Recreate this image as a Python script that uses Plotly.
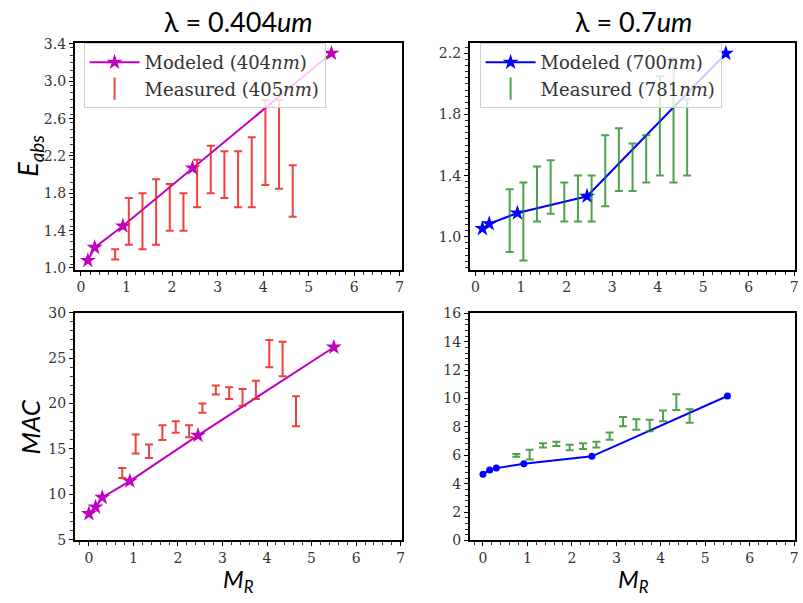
import plotly.graph_objects as go

# ---- data ----
mod_x_top = [0.15, 0.3, 0.92, 2.45, 5.5]
mod_x_bot = [0.0, 0.15, 0.3, 0.92, 2.45, 5.5]
meas_x = [0.75, 1.05, 1.35, 1.65, 1.95, 2.25, 2.55, 2.85, 3.15, 3.45, 3.75, 4.05, 4.35, 4.65]

eabs_mod_404 = [1.08, 1.22, 1.45, 2.07, 3.30]
eabs_meas_405_lo = [1.09, 1.25, 1.20, 1.25, 1.40, 1.40, 1.65, 1.80, 1.75, 1.65, 1.65, 1.89, 1.85, 1.55]
eabs_meas_405_hi = [1.20, 1.75, 1.80, 1.95, 1.90, 1.80, 2.16, 2.31, 2.25, 2.25, 2.40, 2.80, 2.80, 2.10]

eabs_mod_700 = [1.053, 1.085, 1.155, 1.265, 2.20]
eabs_meas_781_lo = [0.90, 0.845, 1.10, 1.15, 1.10, 1.10, 1.10, 1.20, 1.30, 1.30, 1.355, 1.40, 1.355, 1.40]
eabs_meas_781_hi = [1.31, 1.355, 1.46, 1.50, 1.355, 1.40, 1.40, 1.665, 1.71, 1.61, 1.665, 2.05, 2.17, 1.90]

mac_mod_404 = [7.88, 8.6, 9.67, 11.47, 16.5, 26.2]
mac_meas_405_lo = [11.8, 14.5, 14.0, 16.0, 16.8, 16.3, 19.0, 21.0, 20.5, 19.75, 20.5, 24.0, 23.0, 17.5]
mac_meas_405_hi = [12.9, 16.6, 15.5, 17.6, 18.05, 17.6, 20.0, 22.0, 21.8, 21.6, 22.5, 27.0, 26.8, 20.8]

mac_mod_700 = [4.67, 4.97, 5.1, 5.4, 5.93, 10.18]
mac_meas_781_lo = [5.9, 5.7, 6.55, 6.65, 6.35, 6.45, 6.55, 7.1, 8.05, 7.8, 7.7, 8.4, 9.2, 8.3]
mac_meas_781_hi = [6.1, 6.4, 6.85, 6.95, 6.75, 6.85, 6.95, 7.6, 8.7, 8.55, 8.5, 9.15, 10.3, 9.25]

# tick layout: (first tick, step)
eabs_ticks_l = (1.0, 0.4)
eabs_ticks_r = (1.0, 0.4)
mac_ticks_l = (5, 5)
mac_ticks_r = (0, 2)
x_ticks = (0, 1)

# ---- styles ----
MAG = "#bf00bf"
RED = "rgba(240,30,30,0.85)"
BLUE = "#0000ff"
GREEN = "rgba(20,130,20,0.75)"
SERIF = "DejaVu Serif"
W, H = 803, 603


def px_x(p):
    return p / W


def px_y(p):
    return 1 - p / H


def mid(lo, hi):
    return [(a + b) / 2 for a, b in zip(lo, hi)]


def half(lo, hi):
    return [(b - a) / 2 for a, b in zip(lo, hi)]


fig = go.Figure()

panels = [
    ("x", "y", mod_x_top, eabs_mod_404, eabs_meas_405_lo, eabs_meas_405_hi, MAG, RED, "star", "legend",
     ("Modeled (404<i>nm</i>)", "Measured (405<i>nm</i>)"), 12),
    ("x2", "y2", mod_x_top, eabs_mod_700, eabs_meas_781_lo, eabs_meas_781_hi, BLUE, GREEN, "star", "legend2",
     ("Modeled (700<i>nm</i>)", "Measured (781<i>nm</i>)"), 12),
    ("x3", "y3", mod_x_bot, mac_mod_404, mac_meas_405_lo, mac_meas_405_hi, MAG, RED, "star", None, None, 12),
    ("x4", "y4", mod_x_bot, mac_mod_700, mac_meas_781_lo, mac_meas_781_hi, BLUE, GREEN, "circle", None, None, 7),
]

for xa, ya, mx, my, lo, hi, mc, ec, sym, leg, labels, msize in panels:
    show = leg is not None
    fig.add_trace(go.Scatter(
        x=mx, y=my, xaxis=xa, yaxis=ya, mode="lines+markers",
        line=dict(color=mc, width=2),
        marker=dict(symbol=sym, size=msize, color=mc),
        name=labels[0] if show else "", showlegend=show,
        legend=leg if show else "legend"))
    fig.add_trace(go.Scatter(
        x=meas_x, y=mid(lo, hi), xaxis=xa, yaxis=ya, mode="markers",
        marker=dict(size=1, color="rgba(0,0,0,0)"),
        error_y=dict(type="data", array=half(lo, hi), symmetric=True,
                     color=ec, thickness=2, width=4),
        showlegend=False))
    if show:
        fig.add_trace(go.Scatter(
            x=[None], y=[None], xaxis=xa, yaxis=ya, mode="markers",
            marker=dict(symbol="line-ns-open", size=16, color=ec,
                        line=dict(color=ec, width=2)),
            name=labels[1], showlegend=True, legend=leg))

dom_xl = [px_x(75), px_x(404)]
dom_xr = [px_x(472), px_x(799)]
dom_yt = [px_y(269), px_y(36)]
dom_yb = [px_y(547), px_y(313)]


def ax(domain, anchor, rng, ticks, minor_dt, fmt=None):
    d = dict(
        domain=domain, anchor=anchor, range=rng,
        tickmode="linear", tick0=ticks[0], dtick=ticks[1],
        showline=True, linecolor="black", linewidth=1.5, mirror=True,
        ticks="outside", ticklen=4, tickwidth=1.2, tickcolor="black",
        showgrid=False, zeroline=False, ticklabeloverflow="allow",
        tickfont=dict(family=SERIF, size=14, color="#333"),
        minor=dict(ticks="outside", ticklen=3, tickwidth=1, tickcolor="#333",
                   dtick=minor_dt, showgrid=False),
    )
    if fmt:
        d["tickformat"] = fmt
    return d


legend_common = dict(
    xanchor="left", yanchor="top",
    bgcolor="rgba(255,255,255,0.8)", bordercolor="#d0d0d0", borderwidth=1,
    font=dict(family=SERIF, size=18, color="#333"), tracegroupgap=0, itemwidth=50,
)

fig.update_layout(
    width=W, height=H, margin=dict(l=0, r=0, t=0, b=0),
    paper_bgcolor="white", plot_bgcolor="white", showlegend=True,
    xaxis=ax(dom_xl, "y", [-0.14, 7.05], x_ticks, 0.2),
    yaxis=ax(dom_yt, "x", [0.98, 3.41], eabs_ticks_l, 0.08, ".1f"),
    xaxis2=ax(dom_xr, "y2", [-0.13, 7.02], x_ticks, 0.2),
    yaxis2=ax(dom_yt, "x2", [0.783, 2.268], eabs_ticks_r, 0.04, ".1f"),
    xaxis3=ax(dom_xl, "y3", [-0.32, 7.03], x_ticks, 0.2),
    yaxis3=ax(dom_yb, "x3", [4.93, 30.0], mac_ticks_l, 1),
    xaxis4=ax(dom_xr, "y4", [-0.3, 7.02], x_ticks, 0.2),
    yaxis4=ax(dom_yb, "x4", [0, 16.05], mac_ticks_r, 0.4),
    legend=dict(x=px_x(84), y=px_y(36), **legend_common),
    legend2=dict(x=px_x(482), y=px_y(36), **legend_common),
)

SANS = "Lato"
annos = [
    dict(text="λ = 0.404<i>um</i>", x=px_x(240), y=px_y(14), size=27),
    dict(text="λ = 0.7<i>um</i>", x=px_x(637), y=px_y(14), size=27),
    dict(text="<i>M</i><sub><i>R</i></sub>", x=px_x(240), y=px_y(588), size=24),
    dict(text="<i>M</i><sub><i>R</i></sub>", x=px_x(637), y=px_y(588), size=24),
]
for a in annos:
    fig.add_annotation(text=a["text"], x=a["x"], y=a["y"], xref="paper", yref="paper",
                       showarrow=False, xanchor="center", yanchor="middle",
                       font=dict(family=SANS, size=a["size"], color="black"))
fig.add_annotation(text="<i>E</i><sub><i>abs</i></sub>", x=px_x(30), y=px_y(152), xref="paper", yref="paper",
                   showarrow=False, textangle=-90, xanchor="center", yanchor="middle",
                   font=dict(family=SANS, size=27, color="black"))
fig.add_annotation(text="<i>MAC</i>", x=px_x(30), y=px_y(430), xref="paper", yref="paper",
                   showarrow=False, textangle=-90, xanchor="center", yanchor="middle",
                   font=dict(family=SANS, size=26, color="black"))

fig.write_html("out.html", config={"displayModeBar": False},
               post_script="document.body.style.margin='0';document.body.style.overflow='hidden';")
